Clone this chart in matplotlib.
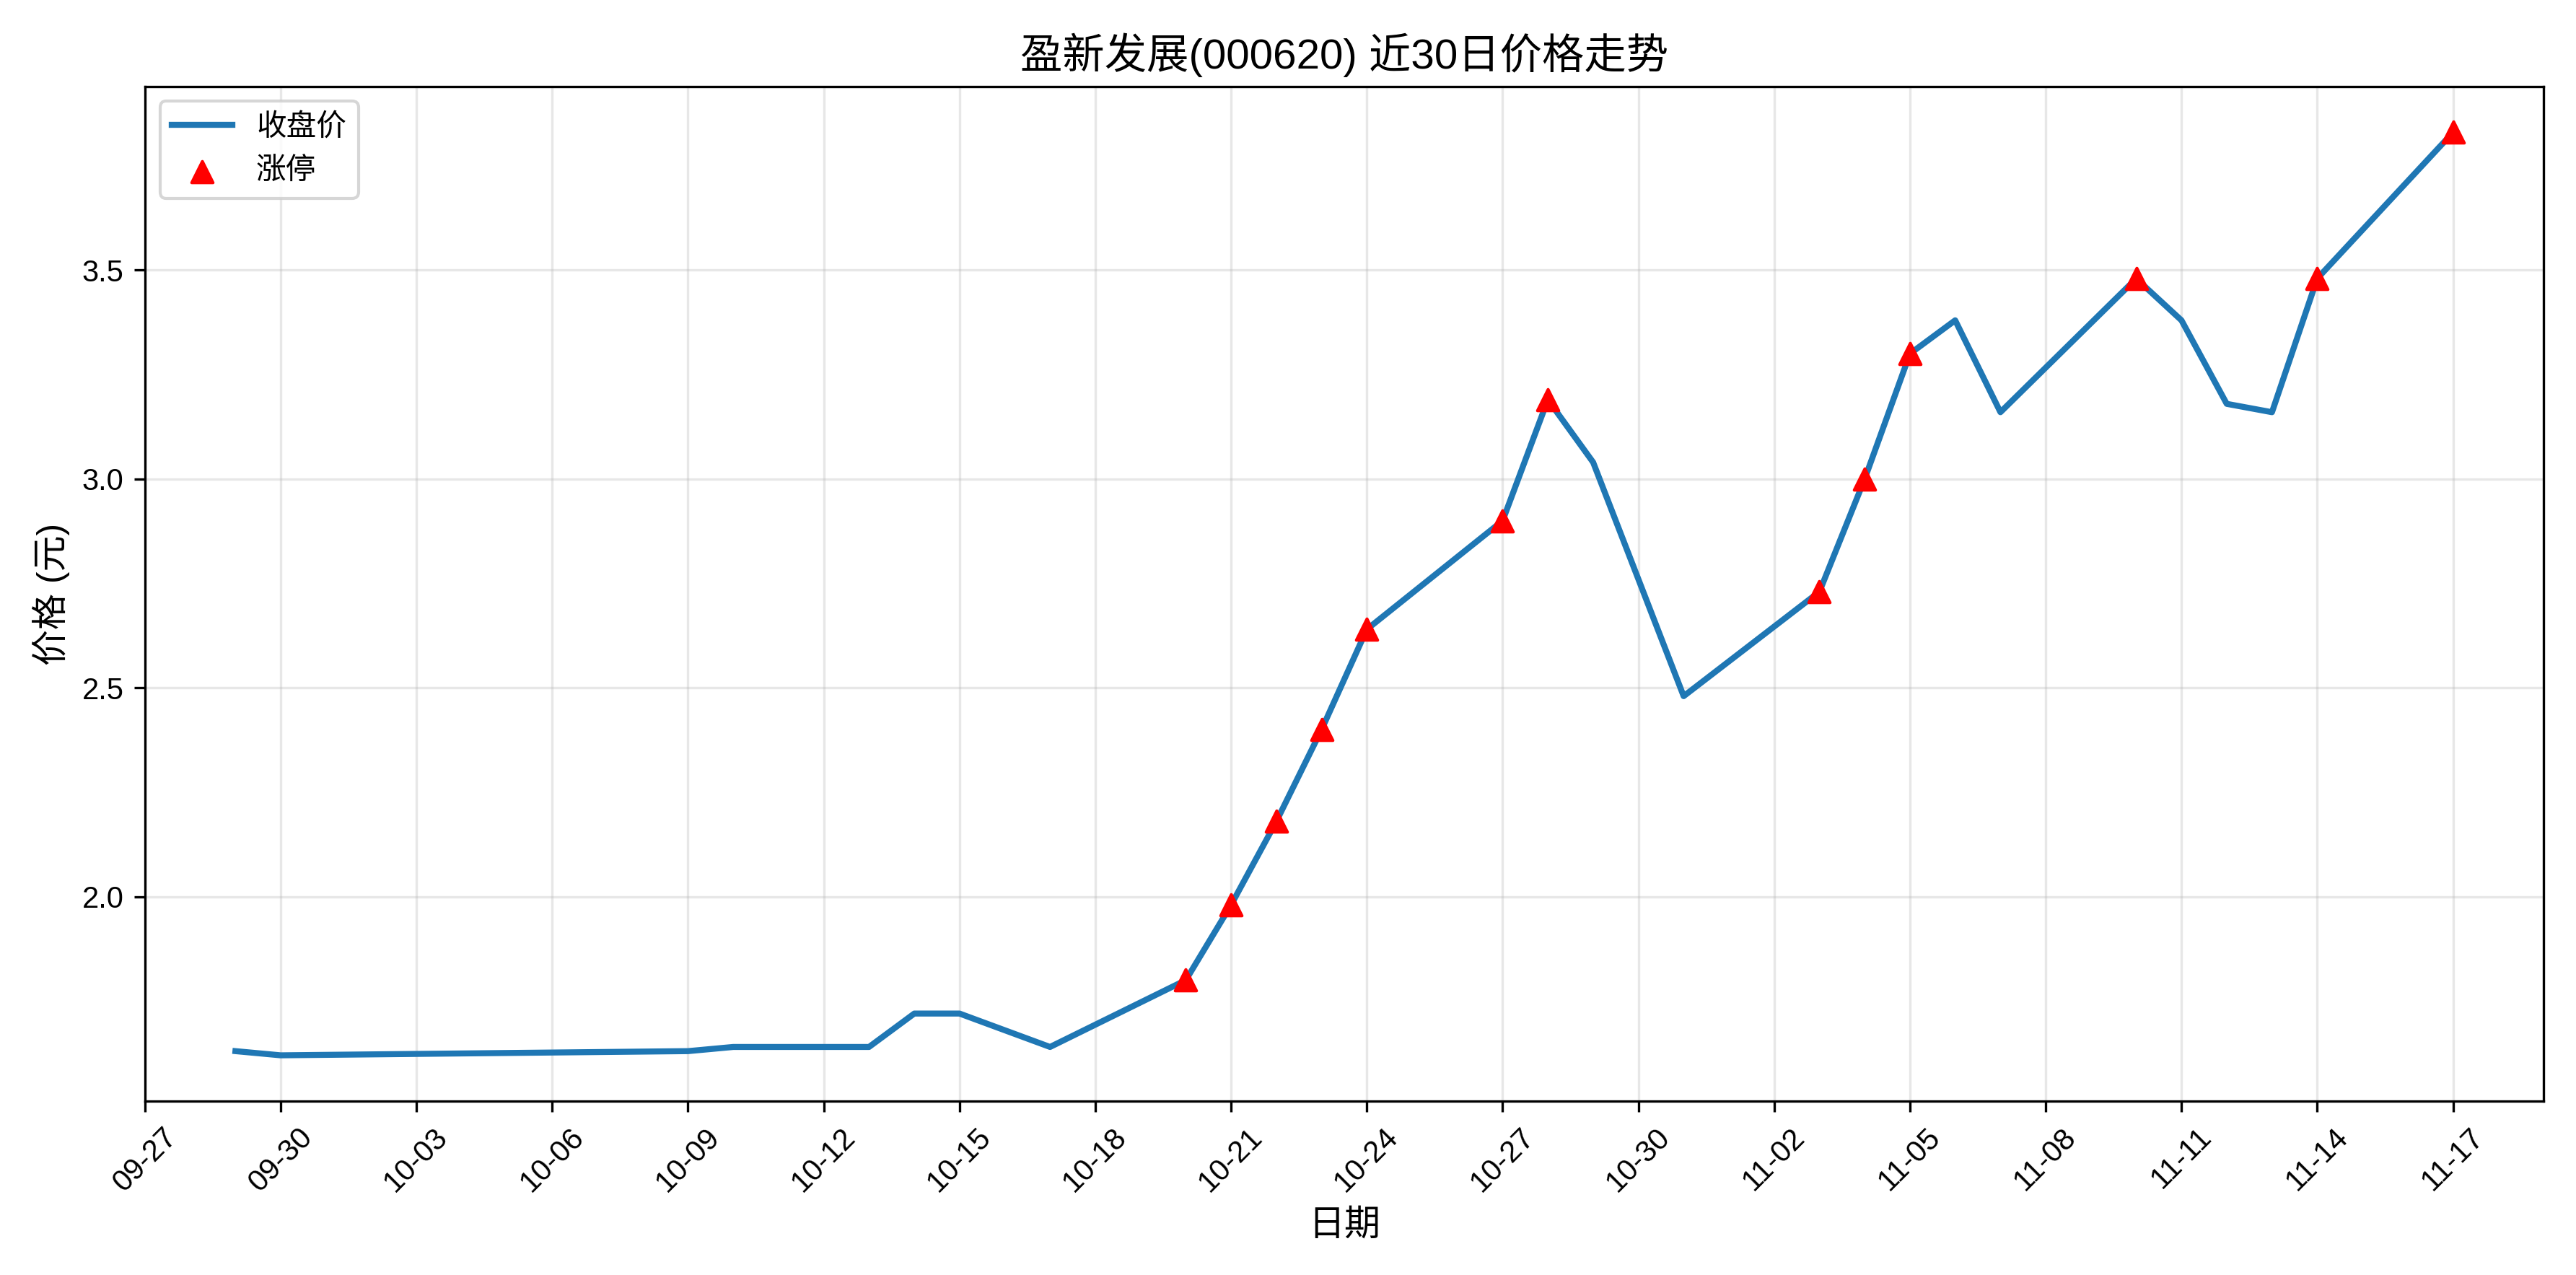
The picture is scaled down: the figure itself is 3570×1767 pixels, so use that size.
import pandas as pd
import matplotlib
matplotlib.use("Agg")
from matplotlib import pyplot as plt
import matplotlib.dates as mdates

plt.rcParams['font.family'] = ['Liberation Sans', 'Noto Sans CJK SC', 'DejaVu Sans']

dates = ["09-29", "09-30", "10-09", "10-10", "10-13", "10-14", "10-15", "10-17",
         "10-20", "10-21", "10-22", "10-23", "10-24", "10-27", "10-28", "10-29",
         "10-31", "11-03", "11-04", "11-05", "11-06", "11-07", "11-10", "11-11",
         "11-12", "11-13", "11-14", "11-17"]
close = [1.63, 1.62, 1.63, 1.64, 1.64, 1.72, 1.72, 1.64,
         1.80, 1.98, 2.18, 2.40, 2.64, 2.90, 3.19, 3.04,
         2.48, 2.73, 3.00, 3.30, 3.38, 3.16, 3.48, 3.38,
         3.18, 3.16, 3.48, 3.83]
limit_up = ["10-20", "10-21", "10-22", "10-23", "10-24", "10-27", "10-28",
            "11-03", "11-04", "11-05", "11-10", "11-14", "11-17"]

df = pd.DataFrame({"date": pd.to_datetime(["2025-" + d for d in dates]), "close": close})
lim = df[df["date"].isin(pd.to_datetime(["2025-" + d for d in limit_up]))]

fig, ax = plt.subplots(figsize=(11.9, 5.89), dpi=300)
ax.plot(df["date"], df["close"], color="#1f77b4", linewidth=2, label="收盘价")
ax.scatter(lim["date"], lim["close"], color="red", marker="^", s=50, zorder=5, label="涨停")

ax.set_title("盈新发展(000620) 近30日价格走势", fontsize=14)
ax.set_xlabel("日期", fontsize=12)
ax.set_ylabel("价格 (元)", fontsize=12)
ax.xaxis.set_major_locator(mdates.DayLocator(interval=3))
ax.xaxis.set_major_formatter(mdates.DateFormatter("%m-%d"))
ax.set_xlim(pd.Timestamp("2025-09-27"), pd.Timestamp("2025-11-19"))
plt.setp(ax.get_xticklabels(), rotation=45)
ax.grid(True, alpha=0.3)
ax.legend(loc="upper left")
plt.tight_layout()
plt.savefig("out.png", dpi=300)
